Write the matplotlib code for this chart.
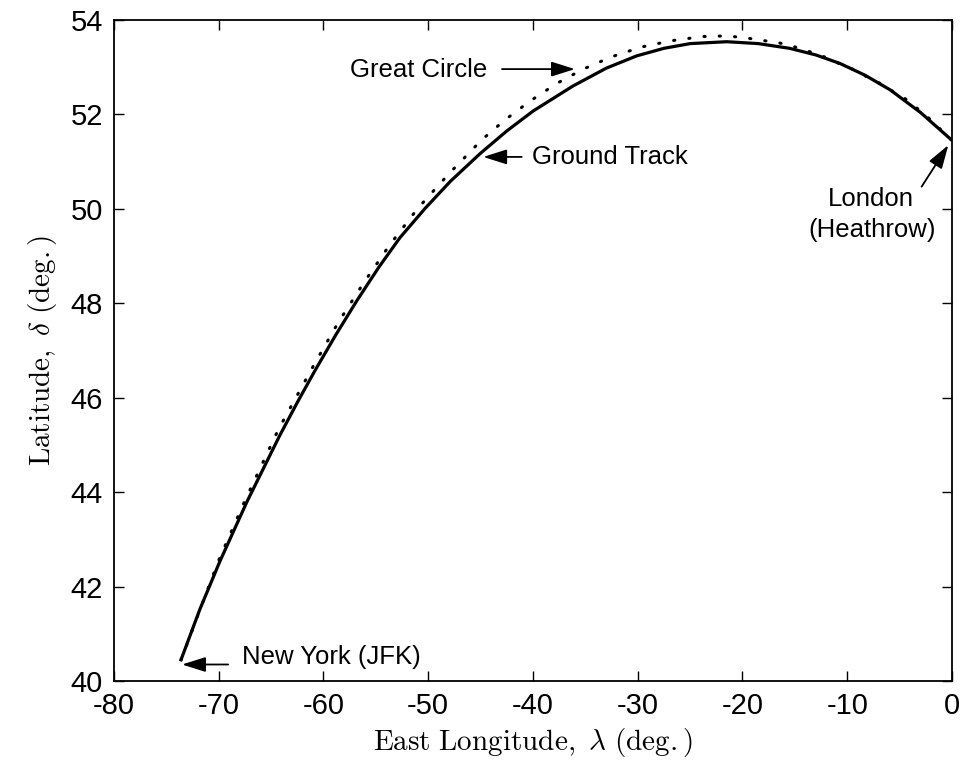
import matplotlib.pyplot as plt

# ground track (solid)
ground_lon = [-73.6, -71.8, -69.9, -67.3, -64.2, -62.5, -60.8, -58.8, -56.8, -54.7, -52.7,
              -50.3, -47.9, -45.0, -42.5, -40.0, -36.2, -33.0, -30.1, -27.5, -25.0,
              -21.5, -18.5, -15.5, -13.0, -10.7, -8.3, -5.9, -3.0, -0.1]
ground_lat = [40.45, 41.52, 42.53, 43.8, 45.19, 45.9, 46.58, 47.34, 48.06, 48.77, 49.39,
              50.01, 50.58, 51.18, 51.65, 52.07, 52.6, 52.98, 53.24, 53.4, 53.5,
              53.54, 53.5, 53.4, 53.26, 53.08, 52.83, 52.52, 52.04, 51.47]

# great circle (dotted)
gc_lon = [-73.6, -70.0, -67.5, -64.3, -60.8, -58.6, -56.2, -53.7, -51.0, -48.0, -44.9,
          -42.7, -40.3, -37.7, -35.2, -32.5, -29.6, -26.8, -23.8, -22.3, -20.9, -19.35,
          -17.85, -16.4, -15.0, -13.6, -12.2, -10.8, -9.5, -8.15, -6.9, -5.6, -4.3, -2.2, -0.1]
gc_lat = [40.45, 42.56, 43.82, 45.33, 46.74, 47.59, 48.42, 49.23, 50.01, 50.75, 51.46,
          51.88, 52.28, 52.66, 52.96, 53.22, 53.43, 53.56, 53.65, 53.66, 53.65, 53.61,
          53.56, 53.51, 53.43, 53.33, 53.22, 53.08, 52.96, 52.8, 52.66, 52.48, 52.31, 51.92, 51.47]

xticks = list(range(-80, 1, 10))
yticks = list(range(40, 55, 2))

plt.rcParams['font.family'] = ['Liberation Sans', 'DejaVu Sans']
plt.rcParams['mathtext.fontset'] = 'cm'

fig = plt.figure(figsize=(9.66, 7.69), dpi=100)
ax = fig.add_axes([0.118, 0.1144, 0.8675, 0.8596])

ax.plot(gc_lon, gc_lat, color='k', lw=2.2, linestyle=(0, (0.4, 4.6)),
        dash_capstyle='round')
ax.plot(ground_lon, ground_lat, color='k', lw=2.3)

ax.set_xlim(-80, 0)
ax.set_ylim(40, 54)
ax.set_xticks(xticks)
ax.set_yticks(yticks)
ax.set_xticklabels([str(t) for t in xticks])
ax.tick_params(direction='in', length=7, width=1, labelsize=21, top=True, right=True, pad=8)
for s in ax.spines.values():
    s.set_linewidth(1.3)

ax.set_xlabel(r'$\mathrm{East\ Longitude,}\ \lambda\ \mathrm{(deg.)}$', fontsize=21, labelpad=4)
ax.set_ylabel(r'$\mathrm{Latitude,}\ \delta\ \mathrm{(deg.)}$', fontsize=21, labelpad=8)

arrow = dict(arrowstyle='-|>,head_length=0.6,head_width=0.19', mutation_scale=24,
             color='k', lw=1.3, shrinkA=0, shrinkB=0)
ax.annotate('', xy=(-36.0, 52.96), xytext=(-42.96, 52.96), arrowprops=arrow)
ax.text(-44.35, 52.79, 'Great Circle', fontsize=18.5, ha='right', va='baseline')
ax.annotate('', xy=(-44.75, 51.1), xytext=(-41.08, 51.1), arrowprops=arrow)
ax.text(-40.1, 50.96, 'Ground Track', fontsize=18.5, ha='left', va='baseline')
ax.annotate('', xy=(-0.35, 51.35), xytext=(-2.9, 50.47), arrowprops=arrow)
ax.text(-7.7, 50.05, 'London', fontsize=18.5, ha='center', va='baseline')
ax.text(-7.65, 49.41, '(Heathrow)', fontsize=18.5, ha='center', va='baseline')
ax.annotate('', xy=(-73.5, 40.35), xytext=(-69.1, 40.35), arrowprops=arrow)
ax.text(-67.8, 40.37, 'New York (JFK)', fontsize=18.5, ha='left', va='baseline')

fig.savefig('out.png', dpi=100)
